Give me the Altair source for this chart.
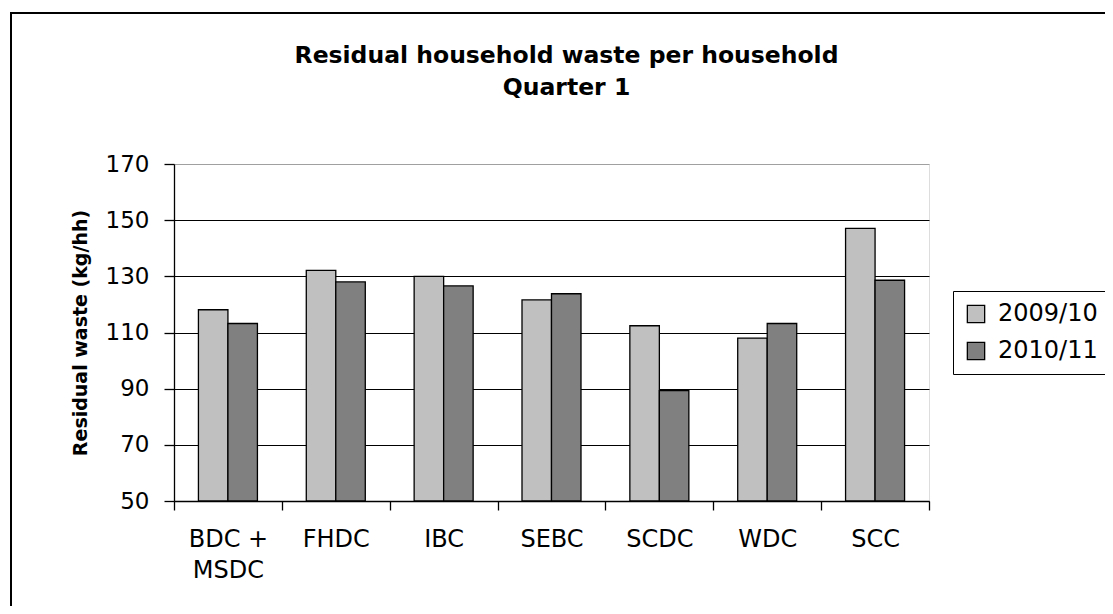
import altair as alt
import pandas as pd

districts = ["BDC + MSDC", "FHDC", "IBC", "SEBC", "SCDC", "WDC", "SCC"]
years = ["2009/10", "2010/11"]
v_2009 = [118.1, 132.1, 130.0, 121.6, 112.4, 108.0, 147.1]
v_2010 = [113.2, 128.0, 126.6, 123.8, 89.3, 113.2, 128.6]
y_ticks = [50, 70, 90, 110, 130, 150, 170]
bar_colors = ["#c0c0c0", "#808080"]

rows = []
for d, a, b in zip(districts, v_2009, v_2010):
    rows.append({"district": d, "year": years[0], "value": a})
    rows.append({"district": d, "year": years[1], "value": b})
df = pd.DataFrame(rows)

FONT = "DejaVu Sans"

bars = alt.Chart(df).mark_bar(stroke="black", strokeWidth=1.3).encode(
    x=alt.X(
        "district:N",
        sort=districts,
        scale=alt.Scale(paddingInner=0, paddingOuter=0),
        axis=alt.Axis(
            title=None,
            tickBand="extent",
            grid=False,
            domainColor="black",
            domainWidth=1.3,
            tickColor="black",
            tickWidth=1.3,
            tickSize=9,
            labelAngle=0,
            labelFont=FONT,
            labelFontSize=24,
            labelColor="black",
            labelPadding=17,
            labelLineHeight=31,
            labelExpr="datum.label == 'BDC + MSDC' ? ['BDC +', 'MSDC'] : datum.label",
        ),
    ),
    xOffset=alt.XOffset(
        "year:N", sort=years, scale=alt.Scale(paddingInner=0, paddingOuter=0.828)
    ),
    y=alt.Y(
        "value:Q",
        scale=alt.Scale(domain=[50, 170], nice=False, zero=False),
        axis=alt.Axis(
            title="Residual waste (kg/hh)",
            titleFont=FONT,
            titleFontSize=19,
            titleFontWeight="bold",
            titleColor="black",
            titlePadding=15,
            values=y_ticks,
            grid=True,
            gridColor=alt.condition("datum.value >= 170", alt.value("#a0a0a0"), alt.value("black")),
            gridWidth=1.2,
            domainColor="black",
            domainWidth=1.3,
            tickColor="black",
            tickWidth=1.3,
            tickSize=10,
            labelFont=FONT,
            labelFontSize=23,
            labelColor="black",
            labelPadding=15,
        ),
    ),
    y2=alt.datum(50),
    color=alt.Color(
        "year:N",
        sort=years,
        scale=alt.Scale(domain=years, range=bar_colors),
        legend=alt.Legend(
            title=None,
            orient="none",
            legendX=779,
            legendY=127,
            strokeColor="black",
            fillColor="white",
            padding=11,
            symbolType="square",
            symbolSize=300,
            symbolStrokeColor="black",
            symbolStrokeWidth=1.3,
            labelFont=FONT,
            labelFontSize=24,
            labelColor="black",
            labelOffset=10,
            rowPadding=13,
        ),
    ),
)

frame = alt.Chart(alt.Data(values=[{"a": 1}])).mark_rect(
    fillOpacity=0, stroke="black", strokeWidth=2
).encode(
    x=alt.value(-163), x2=alt.value(1000), y=alt.value(-151), y2=alt.value(650)
)

chart = alt.layer(frame, bars).properties(
    width=755,
    height=337,
    padding={"left": 166, "top": 156, "right": 176, "bottom": 105},
    autosize=alt.AutoSizeParams(type="none"),
    title=alt.TitleParams(
        text=["Residual household waste per household", "Quarter 1"],
        font=FONT,
        fontSize=23.5,
        fontWeight="bold",
        color="black",
        lineHeight=32,
        anchor="middle",
        frame="group",
        dx=15,
        offset=-87,
    ),
).configure_view(stroke="#a0a0a0", strokeWidth=1.5).configure(background="white")

chart.save("out.html", embed_options={"renderer": "svg", "actions": False})
